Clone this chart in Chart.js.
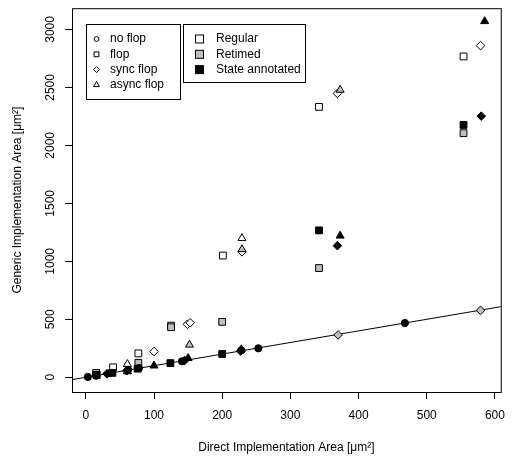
<!DOCTYPE html>
<html>
<head>
<meta charset="utf-8">
<script src="https://cdn.jsdelivr.net/npm/chart.js@4.4.1/dist/chart.umd.min.js"></script>
<style>
  html, body { margin: 0; padding: 0; background: #fff; }
  #wrap { width: 514px; height: 457px; position: relative; }
</style>
</head>
<body>
<div id="wrap"><canvas id="areaChart"></canvas></div>
<script>
// [direct area, generic area] pairs, one list per marker group
const noFlopState   = [[3, 3], [15, 13], [35, 36], [62, 64], [78, 80], [141, 138], [228, 232], [253, 250], [468, 468]];
const flopRegular   = [[40, 86], [77, 206], [125, 445], [201, 1050], [342, 2332], [554, 2767]];
const flopRetimed   = [[15, 37], [77, 125], [125, 432], [200, 478], [342, 942], [554, 2105]];
const flopState     = [[16, 20], [39, 38], [76, 74], [124, 122], [200, 201], [342, 1267], [554, 2176]];
const syncRegular   = [[100, 222], [149, 457], [153, 470], [229, 1082], [369, 2448], [579, 2860]];
const syncRetimed   = [[370, 365], [579, 577]];
const syncState     = [[31, 30], [60, 56], [145, 145], [227, 226], [369, 1135], [580, 2252]];
const asyncRegular  = [[61, 113], [229, 1199]];
const asyncRetimed  = [[152, 280], [229, 1103], [373, 2478]];
const asyncState    = [[61, 50], [100, 100], [150, 165], [228, 240], [373, 1220], [585, 3070]];

const refLine = [[-30, -30], [700, 700]];   // y = x

const xTicks = [0, 100, 200, 300, 400, 500, 600];
const yTicks = [0, 500, 1000, 1500, 2000, 2500, 3000];

const shapeLabels = ['no flop', 'flop', 'sync flop', 'async flop'];
const fillLabels = ['Regular', 'Retimed', 'State annotated'];

const FONT = '"Liberation Sans", Arial, Helvetica, sans-serif';
const WHITE = '#ffffff', GRAY = '#bebebe', BLACK = '#000000';
const SHAPES = ['circle', 'rect', 'rectRot', 'triangle'];
const RADII = { circle: 3.6, rect: 4.8, rectRot: 4.3, triangle: 4.6 };

Chart.defaults.font.family = FONT;
Chart.defaults.font.size = 12;
Chart.defaults.color = '#000';

function series(points, shape, fill) {
    return {
        data: points.map(p => ({ x: p[0], y: p[1] })),
        pointStyle: shape,
        pointRadius: RADII[shape],
        pointHoverRadius: RADII[shape],
        pointBackgroundColor: fill,
        pointBorderColor: BLACK,
        pointBorderWidth: 1,
        showLine: false,
        order: 0
    };
}

function drawMarker(ctx, shape, x, y, r, fill) {
    ctx.beginPath();
    if (shape === 'circle') {
        ctx.arc(x, y, r, 0, Math.PI * 2);
    } else if (shape === 'rect') {
        const s = r * Math.SQRT1_2;
        ctx.rect(x - s, y - s, 2 * s, 2 * s);
    } else if (shape === 'rectRot') {
        ctx.moveTo(x, y - r); ctx.lineTo(x + r, y); ctx.lineTo(x, y + r); ctx.lineTo(x - r, y);
        ctx.closePath();
    } else {
        ctx.moveTo(x, y - r);
        ctx.lineTo(x + r * 0.866, y + r * 0.5);
        ctx.lineTo(x - r * 0.866, y + r * 0.5);
        ctx.closePath();
    }
    ctx.fillStyle = fill;
    ctx.fill();
    ctx.lineWidth = 1;
    ctx.strokeStyle = BLACK;
    ctx.stroke();
}

// plot box and the two legend boxes
const boxLegend = {
    id: 'boxLegend',
    afterDraw(chart) {
        const ctx = chart.ctx;
        const a = chart.chartArea;
        ctx.save();
        ctx.strokeStyle = BLACK;
        ctx.lineWidth = 1;
        ctx.strokeRect(a.left + 0.5, a.top + 0.5, a.right - a.left, a.bottom - a.top);

        ctx.font = '12px ' + FONT;
        ctx.textBaseline = 'middle';
        ctx.textAlign = 'left';
        const rowY = i => 39 + i * 15.3;

        ctx.strokeRect(86.5, 24.5, 94, 75);
        const legR = { circle: 2.4, rect: 3.4, rectRot: 3.0, triangle: 3.4 };
        shapeLabels.forEach((label, i) => {
            drawMarker(ctx, SHAPES[i], 96.5, rowY(i), legR[SHAPES[i]], WHITE);
            ctx.fillStyle = BLACK;
            ctx.fillText(label, 110, rowY(i));
        });

        ctx.strokeRect(183.5, 24.5, 122, 58);
        [WHITE, GRAY, BLACK].forEach((fill, i) => {
            ctx.fillStyle = fill;
            ctx.fillRect(195.5, rowY(i) - 4, 8, 8);
            ctx.strokeStyle = BLACK;
            ctx.strokeRect(195.5, rowY(i) - 4, 8, 8);
            ctx.fillStyle = BLACK;
            ctx.fillText(fillLabels[i], 216, rowY(i));
        });
        ctx.restore();
    }
};

const datasets = [
    series(noFlopState, 'circle', BLACK),
    series(flopState, 'rect', BLACK),
    series(syncState, 'rectRot', BLACK),
    series(asyncState, 'triangle', BLACK),
    series(asyncRetimed, 'triangle', GRAY),
    series(syncRegular, 'rectRot', WHITE),
    series(flopRetimed, 'rect', GRAY),
    series(syncRetimed, 'rectRot', GRAY),
    series(flopRegular, 'rect', WHITE),
    series(asyncRegular, 'triangle', WHITE),
    {
        data: refLine.map(p => ({ x: p[0], y: p[1] })),
        showLine: true,
        borderColor: BLACK,
        borderWidth: 1,
        pointRadius: 0,
        clip: 0,
        order: 1
    }
];

new Chart(document.getElementById('areaChart'), {
    type: 'scatter',
    data: { datasets: datasets },
    options: {
        responsive: true,
        maintainAspectRatio: false,
        animation: false,
        events: [],
        layout: { padding: { top: 2, right: 7, left: 0, bottom: 0 } },
        plugins: { legend: { display: false }, tooltip: { enabled: false } },
        scales: {
            x: {
                type: 'linear',
                min: -20.3,
                max: 608.6,
                afterBuildTicks: s => { s.ticks = xTicks.map(v => ({ value: v })); },
                afterFit: s => { s.height = 65; },
                ticks: { padding: 9, maxRotation: 0, callback: v => String(v) },
                grid: { drawOnChartArea: false, drawTicks: true, tickLength: 7, color: BLACK },
                border: { display: false },
                title: {
                    display: true,
                    text: 'Direct Implementation Area [μm²]',
                    padding: { top: 0, bottom: 2 }
                }
            },
            y: {
                type: 'linear',
                min: -127,
                max: 3183,
                afterBuildTicks: s => { s.ticks = yTicks.map(v => ({ value: v })); },
                afterFit: s => { s.width = 72; },
                ticks: { minRotation: 90, maxRotation: 90, crossAlign: 'center', padding: 1, callback: v => String(v) },
                grid: { drawOnChartArea: false, drawTicks: true, tickLength: 7, color: BLACK },
                border: { display: false },
                title: {
                    display: true,
                    text: 'Generic Implementation Area [μm²]',
                    padding: { top: 10, bottom: 0 }
                }
            }
        }
    },
    plugins: [boxLegend]
});
</script>
</body>
</html>
